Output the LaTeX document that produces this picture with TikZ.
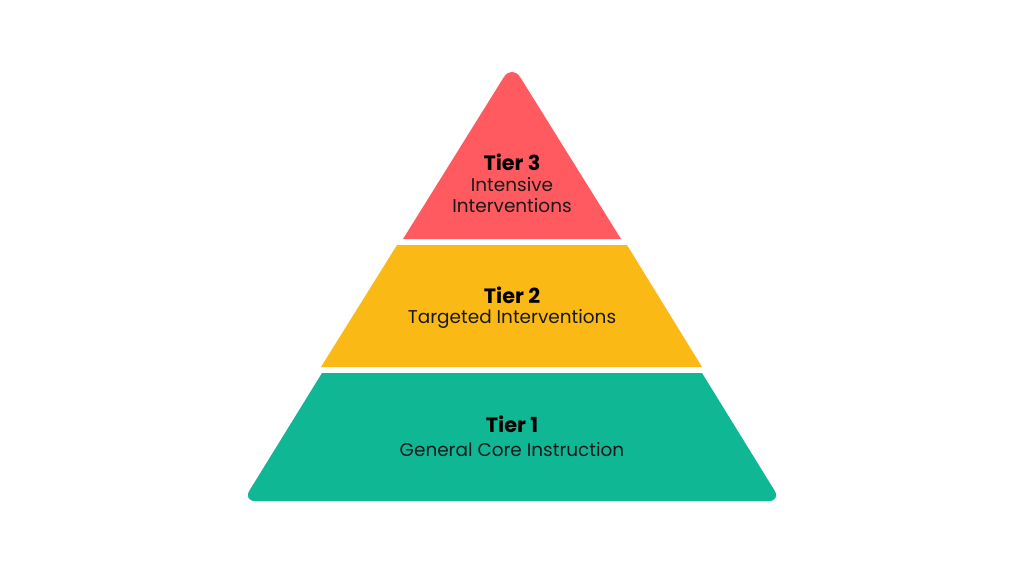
\documentclass[tikz,border=0pt]{standalone}
\usepackage{fontspec}
\setmainfont{Poppins}
\definecolor{tierred}{RGB}{255,90,95}
\definecolor{tieryellow}{RGB}{251,185,22}
\definecolor{tiergreen}{RGB}{16,183,148}
\tikzset{
  tiername/.style={font=\fontsize{11.8}{14}\selectfont\bfseries, text=black},
  tiertext/.style={font=\fontsize{10.5}{12.4}\selectfont, text=black!90, align=center}
}
\begin{document}
\begin{tikzpicture}[x=0.02cm,y=-0.02cm]
\useasboundingbox[fill=white] (0,0) rectangle (1024,576);

\fill[tierred] (403,239) [rounded corners=9pt] -- (512,64) [sharp corners] -- (621,239) -- cycle;
\fill[tieryellow] (397,245) -- (627,245) -- (702,367) -- (321,367) -- cycle;
\fill[tiergreen] (322,373) -- (702,373) [rounded corners=7pt] -- (781,501) -- (243,501) [sharp corners] -- cycle;

\node[tiername] (t3) at (512,162) {Tier 3};
\node[tiertext] (t3txt) at (512,195) {Intensive\\Interventions};
\node[tiername] (t2) at (512,295) {Tier 2};
\node[tiertext] (t2txt) at (512,319) {Targeted Interventions};
\node[tiername] (t1) at (512,424) {Tier 1};
\node[tiertext] (t1txt) at (512,450) {General Core Instruction};
\end{tikzpicture}
\end{document}
